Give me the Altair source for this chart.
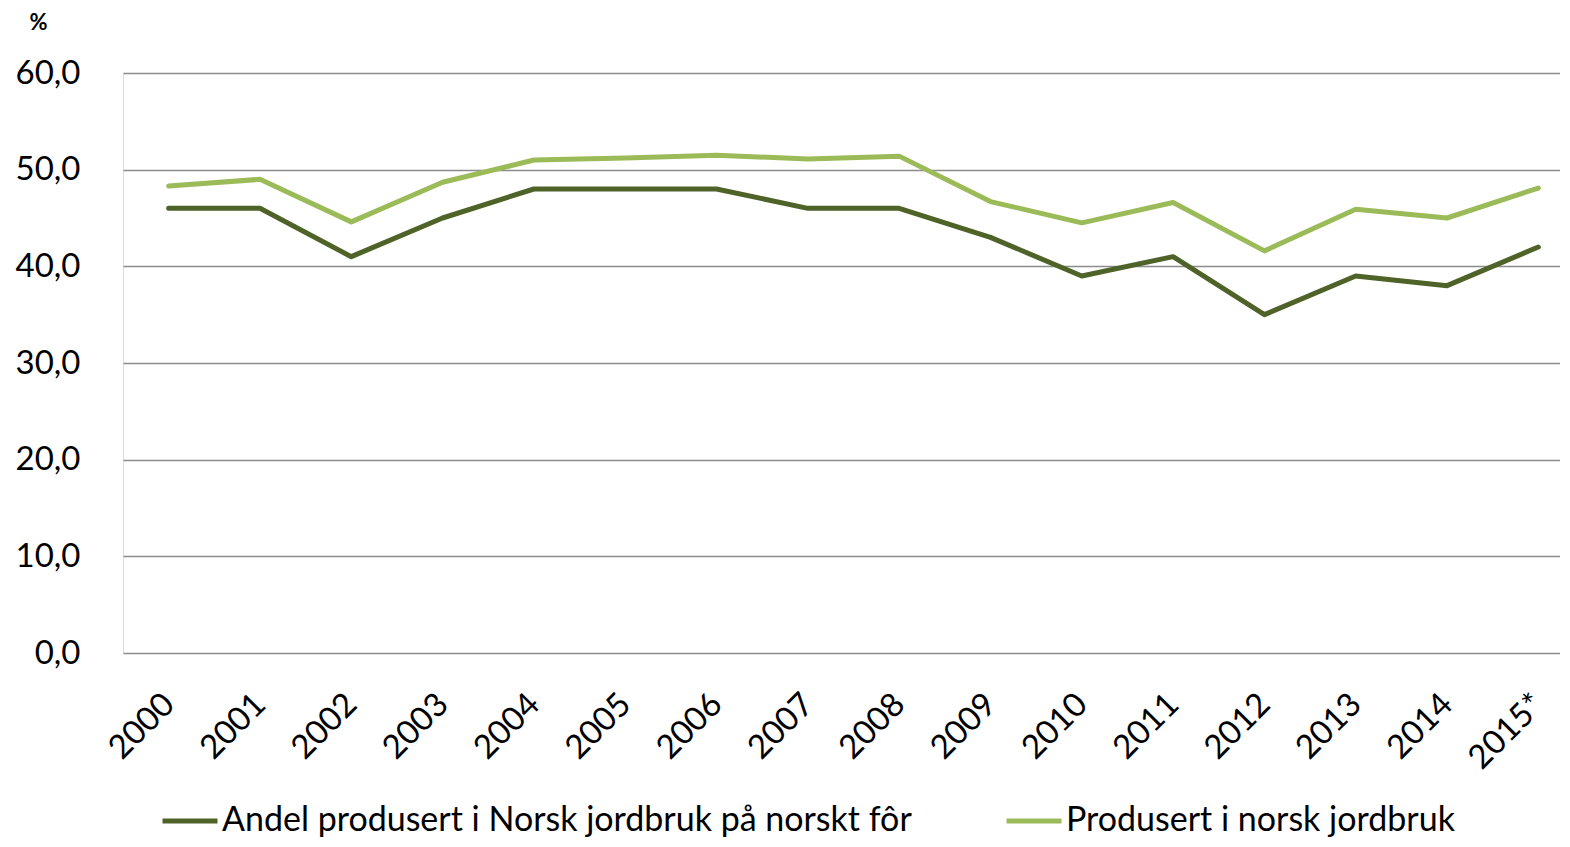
import altair as alt
import pandas as pd

years = ["2000", "2001", "2002", "2003", "2004", "2005", "2006", "2007",
         "2008", "2009", "2010", "2011", "2012", "2013", "2014", "2015*"]
andel_norskt_for = [46.0, 46.0, 41.0, 45.0, 48.0, 48.0, 48.0, 46.0,
                    46.0, 43.0, 39.0, 41.0, 35.0, 39.0, 38.0, 42.0]
produsert_norsk = [48.3, 49.0, 44.6, 48.7, 51.0, 51.2, 51.5, 51.1,
                   51.4, 46.7, 44.5, 46.6, 41.6, 45.9, 45.0, 48.1]
series_names = ["Andel produsert i Norsk jordbruk på norskt fôr",
                "Produsert i norsk jordbruk"]
series_colors = ["#4F6228", "#9BBB59"]
y_ticks = [0, 10, 20, 30, 40, 50, 60]

rows = []
for name, vals in zip(series_names, [andel_norskt_for, produsert_norsk]):
    for y, v in zip(years, vals):
        rows.append({"År": y, "Verdi": v, "Serie": name})
df = pd.DataFrame(rows)

FONT = "Lato"

chart = alt.Chart(df).mark_line(strokeWidth=5, strokeCap="round", strokeJoin="round").encode(
    x=alt.X("År:N", sort=years,
            scale=alt.Scale(type="point", padding=0.5, range=[0, 1461]),
            axis=alt.Axis(title=None, labelAngle=-45, labelFontSize=33, labelFont=FONT,
                          labelColor="#000000", ticks=False, domain=False, grid=False,
                          labelAlign="right", labelBaseline="middle",
                          labelPadding=46)),
    y=alt.Y("Verdi:Q", scale=alt.Scale(domain=[0, 60], nice=False),
            axis=alt.Axis(values=y_ticks, title="%", titleAngle=0, titleX=-85, titleY=-51,
                          titleAlign="center", titleBaseline="middle", titleFontSize=22,
                          titleFont=FONT, titleFontWeight="bold", titleColor="#000000",
                          labelExpr="replace(format(datum.value, '.1f'), '.', ',')",
                          labelFontSize=33, labelFont=FONT, labelColor="#000000",
                          labelPadding=43, ticks=False, domain=False,
                          grid=True, gridColor="#8C8C8C", gridWidth=1.5)),
    color=alt.Color("Serie:N", sort=series_names,
                    scale=alt.Scale(domain=series_names, range=series_colors),
                    legend=alt.Legend(title=None, orient="none", direction="horizontal",
                                      legendX=37, legendY=718,
                                      symbolType="stroke", symbolSize=3025, symbolStrokeWidth=5,
                                      labelFontSize=34, labelFont=FONT, labelColor="#000000",
                                      labelOffset=2, columnPadding=84, labelLimit=1000)),
).properties(
    width=1437, height=580,
    padding={"left": 115, "top": 65, "right": 0, "bottom": 186},
    autosize=alt.AutoSizeParams(type="none"),
).configure_view(stroke="transparent", strokeWidth=0, strokeOpacity=0
).configure_axis(domain=False, ticks=False
).configure(background="white")

chart.save("out.html", embed_options={"renderer": "svg", "actions": False})
